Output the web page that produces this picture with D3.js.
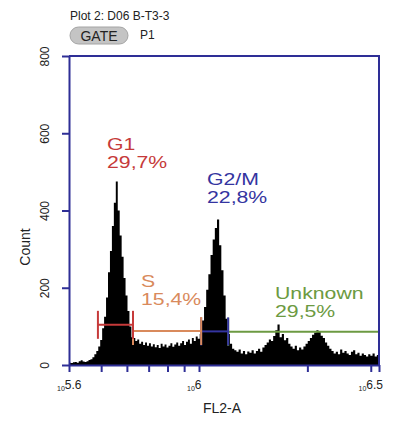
<!DOCTYPE html>
<html>
<head>
<meta charset="utf-8">
<script src="https://cdn.jsdelivr.net/npm/d3@7"></script>
<style>
  body { margin: 0; background: #fff; }
  svg { display: block; font-family: "Liberation Sans", Arial, sans-serif; }
</style>
</head>
<body>
<div id="chart"></div>
<script>
// FL2-A histogram: one count per channel bin, bins are log10 steps from 10^5.6
const binStart = 5.6,
  binStep = 0.006;
const counts = [
  6, 5, 7, 8, 6, 10, 12, 9, 8, 10, 13, 15,
  20, 28, 36, 48, 65,
  95, 125, 175, 240, 295, 360, 420, 475, 400, 335, 280, 225, 180, 140, 100, 72,
  70, 62, 66, 55, 60, 52, 58, 50, 56, 48, 54, 46, 52, 44, 55, 48, 53, 45,
  50, 56, 47, 53, 58, 50, 56, 62, 52, 60, 66, 55, 70, 62, 74, 68,
  80, 115, 150, 195, 235, 285, 325, 355, 377, 310, 245, 180, 120, 80, 55, 42,
  38, 34, 40, 30, 36, 28, 35, 32, 38, 30, 36, 42, 34, 45, 52,
  58, 66, 62, 75, 90, 105, 72, 80, 64, 70, 55, 48,
  42, 50, 38, 45, 40, 48,
  55, 62, 70, 78, 84, 90, 86, 76, 70, 58, 50, 42,
  36, 30, 34, 28, 40, 32, 36, 30, 26, 34, 38, 28, 32, 24, 30, 26, 22, 28, 24, 30, 22, 26
];

const yTicks = [0, 200, 400, 600, 800];
const xMajorTicks = [5.6, 6, 6.5];           // log10 exponents, labelled
const xMinorTicks = [5e5, 6e5, 7e5, 8e5, 9e5, 2e6, 3e6];

// gates (markers), ranges in log10 FL2-A
const gateNames = ["G1", "S", "G2/M", "Unknown"];
const gatePercents = ["29,7%", "15,4%", "22,8%", "29,5%"];
const gateFrom = [5.689, 5.797, 6.006, 6.081];
const gateTo = [5.797, 6.006, 6.081, 6.5];
const gateLevel = [104, 88, 87, 86];
const gateColors = ["#c63a3a", "#d98a5c", "#3434a0", "#6c9a42"];

const width = 397,
  height = 421;

const axisColor = "#2e2e96";

const svg = d3.select("#chart")
  .append("svg")
  .attr("width", width)
  .attr("height", height);

// piecewise log scale, the cytometer axis is a bit wider above 10^6
const x = d3.scaleLog()
  .domain([Math.pow(10, 5.6), 1e6, Math.pow(10, 6.5)])
  .range([69, 199, 379]);

const y = d3.scaleLinear()
  .domain([0, 800])
  .range([365, 56]);

// header
svg.append("text")
  .attr("x", 70)
  .attr("y", 20)
  .style("font-size", "12px")
  .attr("fill", "#222")
  .text("Plot 2: D06 B-T3-3");

svg.append("rect")
  .attr("x", 70)
  .attr("y", 27)
  .attr("width", 58)
  .attr("height", 17)
  .attr("rx", 8.5)
  .attr("fill", "#c4c4c4")
  .attr("stroke", "#a4a4a4");

svg.append("text")
  .attr("x", 99)
  .attr("y", 41)
  .attr("text-anchor", "middle")
  .style("font-size", "14px")
  .attr("fill", "#222")
  .text("GATE");

svg.append("text")
  .attr("x", 140)
  .attr("y", 39)
  .style("font-size", "12px")
  .attr("fill", "#222")
  .text("P1");

// histogram as a step area
let bins = counts.map((c, i) => ({ lo: Math.pow(10, binStart + i * binStep), c: c }));
bins.push({ lo: Math.pow(10, binStart + counts.length * binStep), c: counts[counts.length - 1] });

const area = d3.area()
  .x(d => x(d.lo))
  .y0(y(0))
  .y1(d => y(d.c))
  .curve(d3.curveStepAfter);

svg.append("path")
  .datum(bins)
  .attr("d", area)
  .attr("fill", "#000");

// gate markers, drawn right to left so the left gate's end bar stays on top
const gates = gateNames.map((name, i) => ({
  name: name,
  pct: gatePercents[i],
  from: Math.pow(10, gateFrom[i]),
  to: Math.pow(10, gateTo[i]),
  level: gateLevel[i],
  color: gateColors[i]
})).reverse();

const gateG = svg.append("g").selectAll("g")
  .data(gates)
  .enter().append("g")
  .attr("stroke", d => d.color)
  .attr("stroke-width", 2);

gateG.append("line")
  .attr("x1", d => x(d.from))
  .attr("x2", d => x(d.to))
  .attr("y1", d => y(d.level))
  .attr("y2", d => y(d.level));

gateG.selectAll(".bar")
  .data(d => [d.from, d.to].map(v => ({ v: v, level: d.level })))
  .enter().append("line")
  .attr("class", "bar")
  .attr("x1", d => x(d.v))
  .attr("x2", d => x(d.v))
  .attr("y1", d => y(d.level) - 14)
  .attr("y2", d => y(d.level) + 14);

// gate labels (name + percentage), placed by hand like the cytometer does
const labelPos = {
  "G1": [107, 150],
  "S": [141, 287],
  "G2/M": [207, 185],
  "Unknown": [275, 299]
};

const labels = svg.append("g").selectAll("g")
  .data(gates)
  .enter().append("g")
  .attr("transform", d => `translate(${labelPos[d.name][0]},${labelPos[d.name][1]}) scale(1.25,1)`)
  .attr("fill", d => d.color)
  .style("font-size", "17px");

labels.append("text").text(d => d.name);
labels.append("text").attr("y", 18).text(d => d.pct);

// frame (top and right)
svg.append("path")
  .attr("d", `M${x.range()[0]},${y(800)}H${x.range()[2]}V${y(0)}`)
  .attr("fill", "none")
  .attr("stroke", axisColor)
  .attr("stroke-width", 2);

// y axis
const yAxis = svg.append("g")
  .attr("transform", `translate(${x.range()[0]},0)`)
  .call(d3.axisLeft(y).tickValues(yTicks).tickSize(7).tickSizeOuter(0));

yAxis.selectAll("text")
  .attr("transform", "rotate(-90)")
  .attr("x", 0)
  .attr("y", -20)
  .attr("dy", 0)
  .attr("text-anchor", "middle")
  .attr("fill", "#222")
  .style("font-size", "12px")
  .style("font-family", "'Liberation Sans', Arial, sans-serif");

// x axis, all ticks from the scale, labels added below
const xAxis = svg.append("g")
  .attr("transform", `translate(0,${y(0)})`)
  .call(d3.axisBottom(x)
    .tickValues(xMajorTicks.map(e => Math.pow(10, e)).concat(xMinorTicks))
    .tickSize(7)
    .tickSizeOuter(0)
    .tickFormat(() => ""));

[yAxis, xAxis].forEach(a => {
  a.select(".domain").attr("stroke", axisColor).attr("stroke-width", 2);
  a.selectAll(".tick line").attr("stroke", axisColor).attr("stroke-width", 2);
});

const majorLabels = svg.append("g").selectAll("text")
  .data(xMajorTicks)
  .enter().append("text")
  .attr("x", (d, i) => x(Math.pow(10, d)) + (i === xMajorTicks.length - 1 ? 4 : -12))
  .attr("y", 389)
  .attr("text-anchor", (d, i) => i === xMajorTicks.length - 1 ? "end" : "start")
  .attr("fill", "#222");

majorLabels.append("tspan")
  .attr("dy", 2)
  .style("font-size", "7px")
  .text("10");
majorLabels.append("tspan")
  .attr("dy", -2)
  .style("font-size", "12px")
  .text(d => d);

// axis titles
svg.append("text")
  .attr("x", 222)
  .attr("y", 413)
  .attr("text-anchor", "middle")
  .style("font-size", "14px")
  .attr("fill", "#222")
  .text("FL2-A");

svg.append("text")
  .attr("transform", "translate(30,247) rotate(-90)")
  .attr("text-anchor", "middle")
  .style("font-size", "14px")
  .attr("fill", "#222")
  .text("Count");
</script>
</body>
</html>
